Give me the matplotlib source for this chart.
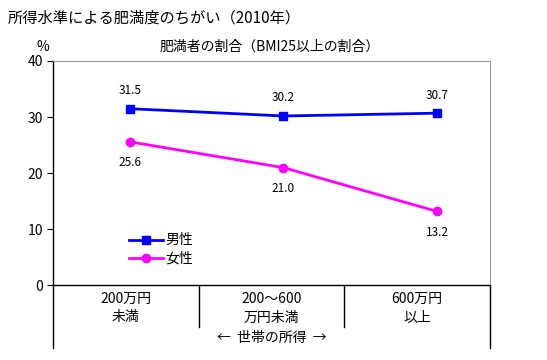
import matplotlib
matplotlib.use("Agg")
from matplotlib import pyplot as plt

plt.rcParams['font.family'] = ['Noto Sans CJK JP', 'DejaVu Sans']

# dati
categorie = ['200万円\n未満', '200～600\n万円未満', '600万円\n以上']
uomini = [31.5, 30.2, 30.7]
donne = [25.6, 21.0, 13.2]
xpos = [0, 1, 2]
yticks = [0, 10, 20, 30, 40]

fig = plt.figure(figsize=(5.47, 3.6), dpi=100)
ax = fig.add_axes([0.0969, 0.207, 0.7989, 0.6236])

l1, = ax.plot(xpos, uomini, '-s', color='#0000FF', lw=2, ms=6, label='男性')
l2, = ax.plot(xpos, donne, '-o', color='#FF00FF', lw=2, ms=6, label='女性')

for x, v in zip(xpos, uomini):
    ax.annotate('%.1f' % v, (x, v), xytext=(0, 13), textcoords='offset points',
                ha='center', va='center', fontsize=8.5)
for x, v in zip(xpos, donne):
    ax.annotate('%.1f' % v, (x, v), xytext=(0, -15), textcoords='offset points',
                ha='center', va='center', fontsize=8.5)

ax.set_xlim(-0.5, 2.345)
ax.set_ylim(0, 40)
ax.set_yticks(yticks)
ax.set_xticks([])
ax.tick_params(axis='y', direction='out', length=4, labelsize=10, pad=3)
ax.spines['top'].set_color('#999999')
ax.spines['right'].set_color('#999999')
ax.spines['left'].set_linewidth(1.0)
ax.spines['bottom'].set_linewidth(1.0)

leg = ax.legend(handles=[l1, l2], loc='upper left', bbox_to_anchor=(0.175, 0.232),
                frameon=False, fontsize=10, handlelength=2.4, handletextpad=0.2,
                labelspacing=0.3, borderaxespad=0, borderpad=0)

# tabella sotto il grafico
tr = ax.transAxes
def pix(px):
    return -px / (285.5 - 61)
for xf, depth in [(0, 63), (1/3, 42), (2/3, 42), (1, 63)]:
    ax.plot([xf, xf], [0, pix(depth)], color='black', lw=1.0, transform=tr, clip_on=False)
for i, c in enumerate(categorie):
    ax.text((i + 0.5) / 3, pix(22.5), c, transform=tr, ha='center', va='center',
            fontsize=10, linespacing=1.45)
ax.text(0.5, pix(53), '←  世帯の所得  →', transform=tr, ha='center', va='center', fontsize=10)

fig.text(8 / 547, 1 - 18 / 360, '所得水準による肥満度のちがい（2010年）', ha='left', va='center', fontsize=11)
fig.text(270 / 547, 1 - 47 / 360, '肥満者の割合（BMI25以上の割合）', ha='center', va='center', fontsize=10)
fig.text(43 / 547, 1 - 47 / 360, '%', ha='center', va='center', fontsize=10)

fig.savefig('out.png', dpi=100)
